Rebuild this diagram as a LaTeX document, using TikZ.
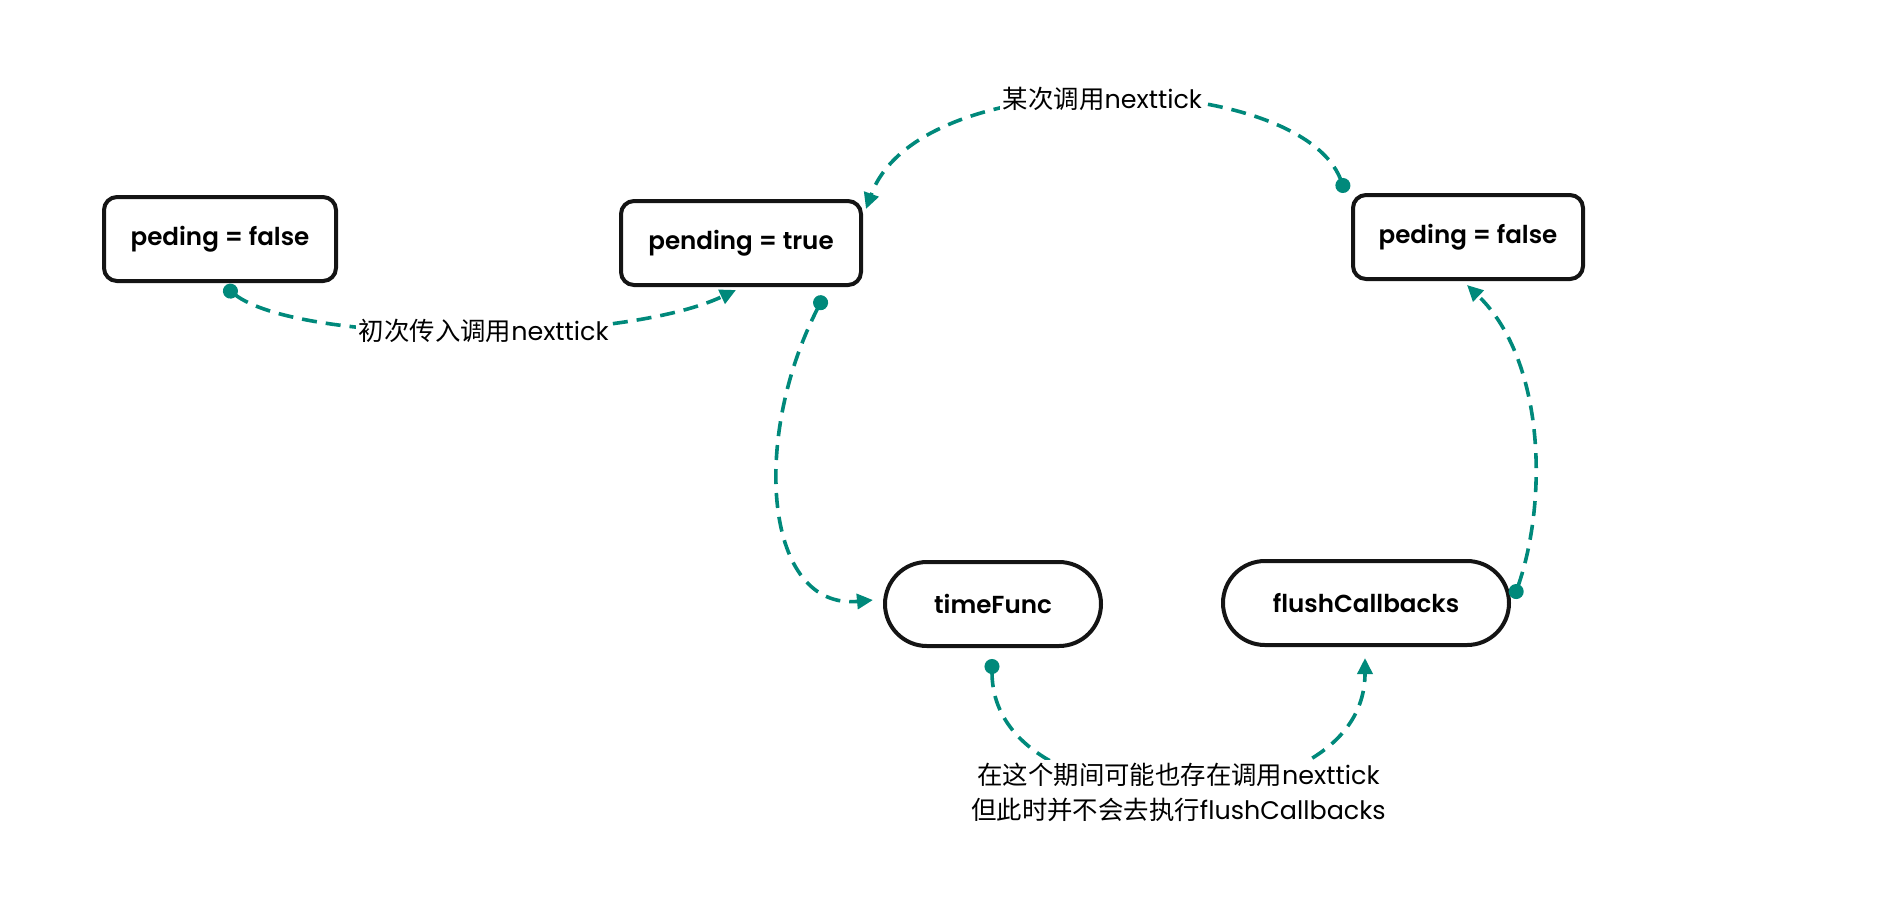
\documentclass[tikz,border=0pt]{standalone}
\usepackage{fontspec}
\setmainfont{Poppins}
\newfontfamily\cjk{Noto Sans CJK SC}
\newfontfamily\boxfont{Poppins SemiBold}
\usetikzlibrary{arrows.meta,shapes.misc}
\definecolor{tealc}{RGB}{0,137,123}
\begin{document}
\begin{tikzpicture}[x=0.5pt,y=-0.5pt,
  box/.style={draw=black!92, line width=2pt, rounded corners=6.5pt, minimum height=42pt, inner sep=0pt,
    font=\boxfont\fontsize{12.3}{15}\selectfont},
  pill/.style={draw=black!92, line width=2pt, rounded rectangle, minimum height=42pt, inner sep=0pt,
    font=\boxfont\fontsize{12.3}{15}\selectfont},
  conn/.style={draw=tealc, line width=1.8pt, dash pattern=on 7.5pt off 4.5pt,
    {Circle[length=7.5pt]}-{Triangle[length=8pt,width=7.5pt]}},
  lbl/.style={fill=white, inner sep=1.5pt, font=\fontsize{12.7}{17.5}\selectfont}
]
\useasboundingbox (0,0) rectangle (1886,918);
\node[box, minimum width=116pt] (b1) at (220,239) {peding = false};
\node[box, minimum width=120pt] (b2) at (741,243) {pending = true};
\node[box, minimum width=115pt] (b3) at (1468,237) {peding = false};
\node[pill, minimum width=108pt] (tf) at (993,604) {timeFunc};
\node[pill, minimum width=143pt] (fc) at (1366,603) {flushCallbacks};

\draw[conn] ([shift={(4.5,3.5)}]b1.south) .. controls (300,345) and (620,345) .. ([shift={(-5,3)}]b2.south)
  node[lbl, pos=0.53] {{\cjk 初次传入调用}nexttick};
\draw[conn] ([shift={(83,9)}]b2.south) .. controls (750,440) and (765,610) .. ([shift={(-10,-4)}]tf.west);
\draw[conn] ([shift={(-5.5,-0.5)}]b3.north west) .. controls (1300,70) and (920,60) .. ([shift={(3,10)}]b2.north east)
  node[lbl, pos=0.51] {{\cjk 某次调用}nexttick};
\draw[conn] ([shift={(2.7,-4.4)}]fc.east) .. controls (1548,500) and (1545,360) .. ([shift={(-1,4)}]b3.south);
\draw[conn] ([shift={(-1,11)}]tf.south) .. controls (992,830) and (1365,830) .. ([shift={(-1,11)}]fc.south)
  node[lbl, pos=0.5, yshift=-2.5pt, align=center] {{\cjk 在这个期间可能也存在调用}nexttick\\{\cjk 但此时并不会去执行}flushCallbacks};
\end{tikzpicture}
\end{document}
